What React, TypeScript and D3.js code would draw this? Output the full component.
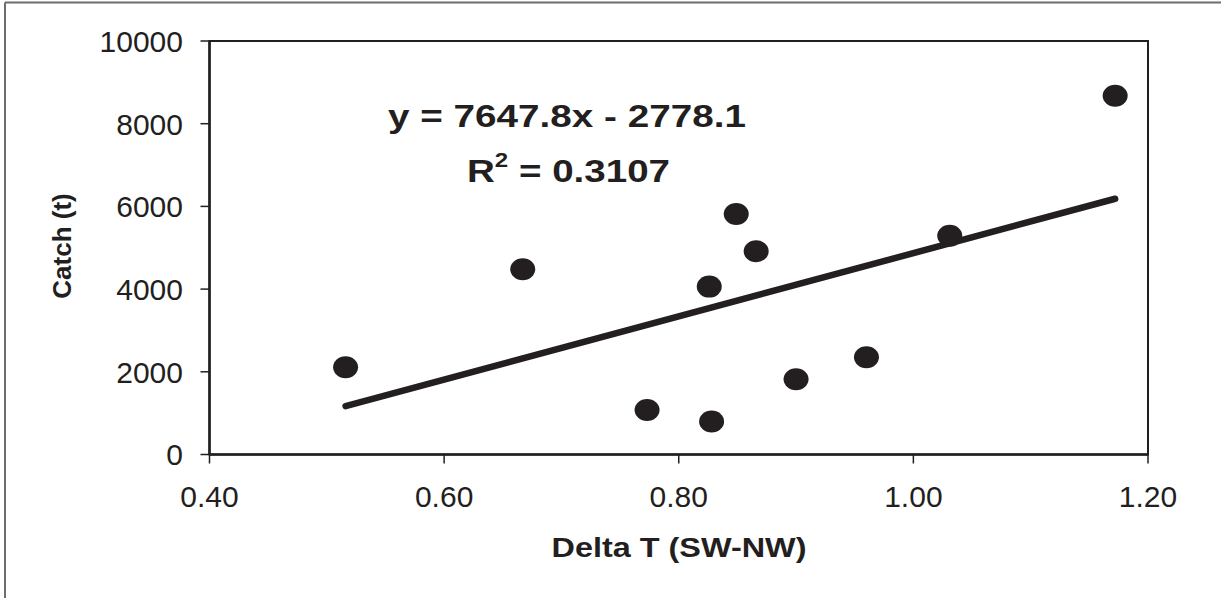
import React from 'react';
import * as d3 from 'd3';

// values
const deltaT = [0.516, 0.667, 0.773, 0.826, 0.828, 0.849, 0.866, 0.9, 0.96, 1.031, 1.172];
const catchT = [2110, 4480, 1075, 4060, 800, 5815, 4915, 1820, 2350, 5290, 8675];

const xTicks = [0.4, 0.6, 0.8, 1.0, 1.2];
const yTicks = [0, 2000, 4000, 6000, 8000, 10000];

const slope = 7647.8;
const intercept = -2778.1;
const rSquared = '0.3107';

const W = 1221;
const H = 598;
const margin = { top: 41, right: 73, bottom: 143.5, left: 209.5 };
const ink = '#231f20';

export default function App() {
  const x = d3.scaleLinear().domain([0.4, 1.2]).range([margin.left, W - margin.right]);
  const y = d3.scaleLinear().domain([0, 10000]).range([H - margin.bottom, margin.top]);

  const points = deltaT.map((d, i) => ({ x: d, y: catchT[i] }));
  const [x0, x1] = d3.extent(deltaT) as [number, number];
  const trend = d3.line<number>()
    .x(d => x(d))
    .y(d => y(slope * d + intercept))([x0, x1]);

  const [left, right] = x.range();
  const [bottom, top] = y.range();

  return (
    <svg
      width={W}
      height={H}
      style={{ position: 'absolute', left: 0, top: 0, display: 'block', background: '#fff' }}
      fontFamily="'Liberation Sans', Arial, sans-serif"
    >
      {/* outer frame (only top and left visible) */}
      <line x1={5} y1={2.5} x2={W} y2={2.5} stroke="#6d6d6d" strokeWidth={2} />
      <line x1={5} y1={2.5} x2={5} y2={H} stroke="#6d6d6d" strokeWidth={2} />

      {/* plot box */}
      <rect x={left} y={top} width={right - left} height={bottom - top} fill="none" stroke={ink} strokeWidth={2} />
      <line x1={left} y1={top} x2={left} y2={bottom} stroke={ink} strokeWidth={2.5} />
      <line x1={left} y1={bottom} x2={right} y2={bottom} stroke={ink} strokeWidth={2.5} />

      {/* y axis */}
      {yTicks.map(t => (
        <g key={'y' + t}>
          <line x1={left - 9} x2={left} y1={y(t)} y2={y(t)} stroke={ink} strokeWidth={1.5} />
          <text x={183} y={y(t)} dy="0.36em" textAnchor="end" fontSize={30} fill={ink}>
            {t}
          </text>
        </g>
      ))}

      {/* x axis */}
      {xTicks.map(t => (
        <g key={'x' + t}>
          <line x1={x(t)} x2={x(t)} y1={bottom} y2={bottom + 9} stroke={ink} strokeWidth={1.5} />
          <text x={x(t)} y={507} textAnchor="middle" fontSize={30} fill={ink}>
            {d3.format('.2f')(t)}
          </text>
        </g>
      ))}

      {/* axis titles */}
      <text x={679} y={557} textAnchor="middle" fontSize={28} fontWeight="bold" fill={ink}
        textLength={255} lengthAdjust="spacingAndGlyphs">
        Delta T (SW-NW)
      </text>
      <text transform={`translate(71,246) rotate(-90)`} textAnchor="middle" fontSize={26} fontWeight="bold" fill={ink}>
        Catch (t)
      </text>

      {/* trend line */}
      <path d={trend ?? ''} fill="none" stroke={ink} strokeWidth={6.5} strokeLinecap="round" />

      {/* points */}
      {points.map((p, i) => (
        <ellipse key={i} cx={x(p.x)} cy={y(p.y)} rx={12.5} ry={11} fill={ink} />
      ))}

      {/* regression label */}
      <text x={388} y={127} fontSize={32} fontWeight="bold" fill={ink}
        textLength={358} lengthAdjust="spacingAndGlyphs">
        {`y = ${slope}x - ${Math.abs(intercept)}`}
      </text>
      <text x={467} y={182} fontSize={32} fontWeight="bold" fill={ink}
        textLength={203} lengthAdjust="spacingAndGlyphs">
        R<tspan fontSize={20} dy={-15}>2</tspan>
        <tspan dy={15}>{` = ${rSquared}`}</tspan>
      </text>
    </svg>
  );
}
